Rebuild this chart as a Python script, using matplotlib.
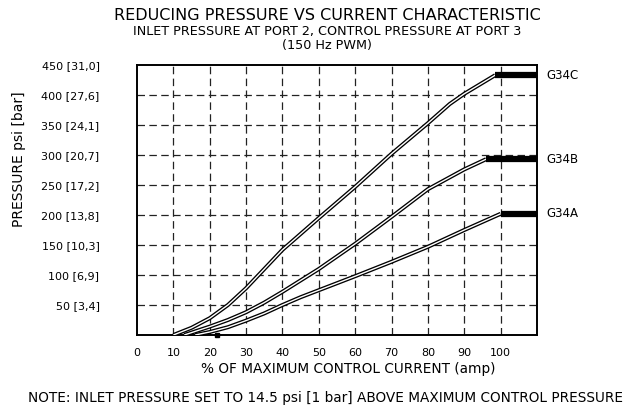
import matplotlib
matplotlib.use("Agg")
import matplotlib.pyplot as plt

# ---- data ----
x_ticks = [0, 10, 20, 30, 40, 50, 60, 70, 80, 90, 100]
y_psi = [50, 100, 150, 200, 250, 300, 350, 400, 450]
y_bar = ["3,4", "6,9", "10,3", "13,8", "17,2", "20,7", "24,1", "27,6", "31,0"]

g34c_x = [10, 15, 20, 25, 30, 35, 40, 50, 60, 70, 80, 86, 90, 98.5]
g34c_y = [0, 12, 28, 50, 78, 110, 142, 195, 247, 302, 353, 385, 402, 433]
g34b_x = [13, 20, 25, 30, 35, 40, 50, 60, 70, 80, 90, 96]
g34b_y = [0, 14, 25, 38, 54, 72, 110, 152, 197, 243, 276, 293]
g34a_x = [16, 20, 25, 30, 35, 40, 45, 60, 70, 80, 90, 100]
g34a_y = [0, 5, 13, 24, 36, 50, 63, 98, 122, 147, 175, 202]
series_names = ["G34C", "G34B", "G34A"]
start_mark_x = [22]
start_mark_y = [0]
x_max = 110

FONT = "DejaVu Sans"
plt.rcParams["font.family"] = FONT

fig = plt.figure(figsize=(6.32, 4.12), dpi=100)
W, H = 632.0, 412.0
ax = fig.add_axes([137 / W, 1 - 335 / H, 400 / W, 270 / H])
ax.set_xlim(0, x_max)
ax.set_ylim(0, 450)

# grid
for xv in x_ticks[1:]:
    ax.plot([xv, xv], [0, 450], color="#222222", lw=0.9, dashes=(6, 3.5), zorder=1)
for yv in y_psi[:-1]:
    ax.plot([0, x_max], [yv, yv], color="#222222", lw=0.9, dashes=(6, 3.5), zorder=1)

# curves: double line style + thick flat segment
for xs, ys, name in [(g34c_x, g34c_y, series_names[0]),
                     (g34b_x, g34b_y, series_names[1]),
                     (g34a_x, g34a_y, series_names[2])]:
    ax.plot(xs, ys, color="black", lw=2.9, solid_capstyle="butt", solid_joinstyle="round", zorder=3)
    ax.plot(xs, ys, color="white", lw=1.0, solid_capstyle="butt", solid_joinstyle="round", zorder=4)
    ax.plot([xs[-1], x_max], [ys[-1], ys[-1]], color="black", lw=4.5, solid_capstyle="butt", zorder=5, clip_on=False)
    ax.text(x_max + 2.7, ys[-1], name, fontsize=8.5, va="center", ha="left", clip_on=False)

ax.plot(start_mark_x, start_mark_y, marker="s", ms=3.5, color="black", ls="none", zorder=6, clip_on=False)

for s in ax.spines.values():
    s.set_linewidth(1.4)

ax.set_xticks(x_ticks)
ax.set_xticklabels([str(v) for v in x_ticks], fontsize=8)
ax.set_yticks(y_psi)
ax.set_yticklabels([f"{p} [{b}]" for p, b in zip(y_psi, y_bar)], fontsize=8)
ax.tick_params(axis="both", length=0)
ax.tick_params(axis="x", pad=9)
ax.tick_params(axis="y", pad=27)

fig.text(19 / W, 1 - 159 / H, "PRESSURE psi [bar]", rotation=90, ha="center", va="center", fontsize=10)
fig.text(348 / W, 1 - 369 / H, "% OF MAXIMUM CONTROL CURRENT (amp)", ha="center", va="center", fontsize=9.8)
fig.text(325 / W, 1 - 398 / H, "NOTE: INLET PRESSURE SET TO 14.5 psi [1 bar] ABOVE MAXIMUM CONTROL PRESSURE",
         ha="center", va="center", fontsize=9.8)

fig.text(327 / W, 1 - 16 / H, "REDUCING PRESSURE VS CURRENT CHARACTERISTIC", ha="center", va="center", fontsize=11.5)
fig.text(327 / W, 1 - 31 / H, "INLET PRESSURE AT PORT 2, CONTROL PRESSURE AT PORT 3", ha="center", va="center", fontsize=9.2)
fig.text(327 / W, 1 - 45 / H, "(150 Hz PWM)", ha="center", va="center", fontsize=9.2)

fig.savefig("out.png", dpi=100)
